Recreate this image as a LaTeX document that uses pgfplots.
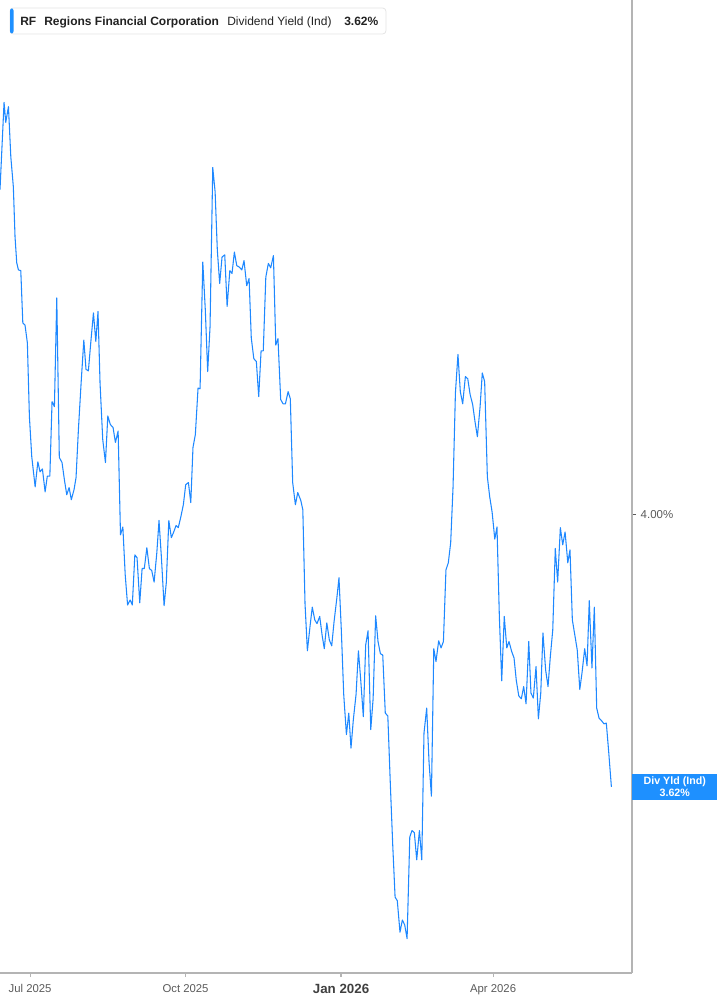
\documentclass[border=0pt]{standalone}
\usepackage{pgfplots}
\pgfplotsset{compat=1.18}
\usepackage{fontspec}
\setmainfont{Liberation Sans}
\definecolor{lineblue}{HTML}{1E88FF}
\definecolor{boxblue}{HTML}{1E90FF}
\definecolor{axgray}{HTML}{B4B4B4}
\definecolor{txtgray}{HTML}{5A5A5A}
\definecolor{darktxt}{HTML}{222222}
\begin{document}
\begin{tikzpicture}
\useasboundingbox (0pt,0pt) rectangle (537.75pt,753.75pt);
\begin{axis}[
  at={(0pt,24pt)}, anchor=south west,
  scale only axis, width=474pt, height=729.75pt,
  xmin=-17.8, xmax=356.2, ymin=3.36, ymax=4.719,
  axis x line*=bottom, axis y line*=right,
  axis line style={axgray, line width=1.5pt, -},
  clip=false,
  xtick={0,92,184,274},
  xticklabels={Jul 2025, Oct 2025, {\fontsize{10}{12}\selectfont\bfseries\color{black!75}Jan 2026}, Apr 2026},
  x tick label style={font=\fontsize{8.5}{10}\selectfont, text=txtgray, yshift=-2pt},
  ytick={4},
  yticklabels={4.00\%},
  y tick label style={font=\fontsize{8.6}{10}\selectfont, text=txtgray},
  tick align=outside,
  x tick style={axgray, line width=0.8pt},
  y tick style={txtgray, line width=0.8pt},
  major tick length=3pt,
]
\addplot[lineblue, line width=0.8pt, line join=round] table {
x y
-17.8 4.454
-15.4 4.576
-14.4 4.548
-12.8 4.570
-11.4 4.500
-9.9 4.458
-8.9 4.388
-7.9 4.352
-6.9 4.342
-5.5 4.341
-4.3 4.268
-3.0 4.265
-1.6 4.240
-0.4 4.137
1.0 4.081
3.0 4.039
4.6 4.074
5.9 4.060
7.3 4.064
8.9 4.032
10.2 4.054
11.7 4.054
13.0 4.158
14.4 4.151
15.8 4.303
17.3 4.080
18.9 4.073
20.3 4.049
21.7 4.028
23.1 4.038
24.4 4.021
26.0 4.035
27.2 4.052
28.6 4.119
30.2 4.184
31.8 4.244
33.1 4.203
34.5 4.201
35.9 4.240
37.5 4.282
38.9 4.242
40.2 4.284
41.4 4.184
43.0 4.105
44.6 4.073
46.0 4.138
47.5 4.126
49.1 4.122
50.5 4.101
52.1 4.117
53.5 3.972
54.9 3.983
56.3 3.916
57.7 3.874
59.2 3.881
60.5 3.874
62.0 3.944
63.3 3.940
64.9 3.877
66.3 3.925
67.6 3.925
69.1 3.954
70.6 3.925
72.0 3.922
73.4 3.906
75.0 3.947
76.3 3.992
77.7 3.941
79.3 3.873
80.6 3.905
82.1 3.992
83.6 3.968
85.0 3.976
86.4 3.985
87.7 3.982
89.2 3.997
90.7 4.014
92.1 4.042
93.7 4.045
95.1 4.017
96.4 4.094
97.8 4.112
99.4 4.177
100.6 4.176
102.2 4.353
103.7 4.286
105.1 4.200
106.5 4.263
108.1 4.485
109.5 4.451
110.8 4.370
112.2 4.323
113.6 4.360
115.2 4.363
116.6 4.291
118.2 4.341
119.5 4.337
120.9 4.367
122.3 4.348
123.8 4.346
125.3 4.342
126.6 4.355
128.2 4.320
129.6 4.330
130.9 4.247
132.4 4.218
133.9 4.214
135.3 4.165
136.7 4.229
138.0 4.229
139.5 4.332
141.0 4.351
142.4 4.345
144.0 4.362
145.4 4.237
146.7 4.246
148.3 4.161
149.7 4.155
151.1 4.155
152.7 4.172
154.0 4.162
155.4 4.045
157.0 4.014
158.4 4.031
160.2 4.020
161.4 4.007
162.7 3.876
164.1 3.810
165.7 3.845
167.0 3.871
168.5 3.853
169.8 3.848
171.4 3.858
172.8 3.832
174.1 3.813
175.6 3.849
177.1 3.825
178.5 3.817
179.9 3.851
181.5 3.883
182.8 3.912
184.2 3.838
185.6 3.749
187.2 3.693
188.6 3.723
189.9 3.674
191.3 3.714
192.9 3.749
194.3 3.810
195.7 3.768
197.2 3.718
198.6 3.818
200.0 3.838
201.6 3.700
203.0 3.743
204.5 3.859
205.9 3.823
207.3 3.806
208.7 3.804
210.2 3.723
211.7 3.719
213.2 3.623
214.6 3.539
216.0 3.466
217.3 3.461
218.9 3.417
220.3 3.434
221.7 3.427
223.1 3.408
224.7 3.550
226.0 3.559
227.4 3.556
228.8 3.518
230.4 3.559
231.8 3.518
233.1 3.695
234.7 3.730
236.1 3.654
237.5 3.607
238.9 3.813
240.2 3.795
241.8 3.824
243.2 3.814
244.6 3.823
246.1 3.923
247.5 3.933
248.9 3.961
250.3 4.039
251.7 4.170
253.2 4.224
254.6 4.172
256.0 4.155
257.6 4.193
259.0 4.190
260.4 4.168
261.9 4.154
263.3 4.130
264.7 4.109
266.3 4.151
267.6 4.198
269.0 4.186
270.6 4.053
272.0 4.025
273.4 4.004
275.0 3.966
276.3 3.983
277.7 3.858
279.1 3.768
280.6 3.858
282.1 3.814
283.4 3.823
285.0 3.809
286.4 3.800
287.7 3.769
289.2 3.747
290.7 3.743
292.1 3.760
293.5 3.736
295.1 3.823
296.4 3.751
297.8 3.744
299.4 3.788
300.8 3.715
302.2 3.751
303.5 3.835
305.1 3.783
306.5 3.760
307.9 3.803
309.3 3.839
310.8 3.953
312.2 3.906
313.8 3.982
315.2 3.958
316.6 3.976
318.2 3.933
319.5 3.951
320.9 3.853
322.5 3.830
323.8 3.811
325.3 3.756
326.6 3.779
328.2 3.813
329.6 3.789
330.9 3.880
332.5 3.786
333.9 3.871
335.3 3.730
336.7 3.716
338.3 3.712
339.6 3.708
341.0 3.709
342.4 3.669
344.0 3.620
};
\node[fill=boxblue, text=white, font=\fontsize{8}{9}\selectfont\bfseries, align=center,
      anchor=west, minimum width=63.75pt, minimum height=19.5pt, inner sep=0pt]
  at (axis cs:356.2,3.62) {Div Yld (Ind)\\3.62\%};
\end{axis}
% header legend
\begin{scope}[x=0.75pt,y=0.75pt]
\draw[draw=black!10, fill=white, rounded corners=2.5pt, line width=0.6pt] (10,971) rectangle (386,997);
\fill[boxblue, rounded corners=1.5pt] (10,971.5) rectangle (13.5,996.5);
\node[anchor=base west, inner sep=0pt, font=\fontsize{9}{10}\selectfont\bfseries, text=darktxt] at (20,979.5) {RF};
\node[anchor=base west, inner sep=0pt, font=\fontsize{9}{10}\selectfont\bfseries, text=darktxt] at (44,979.5) {Regions Financial Corporation};
\node[anchor=base west, inner sep=0pt, font=\fontsize{9}{10}\selectfont, text=darktxt] at (227,979.5) {Dividend Yield (Ind)};
\node[anchor=base west, inner sep=0pt, font=\fontsize{9}{10}\selectfont\bfseries, text=darktxt] at (344,979.5) {3.62\%};
\end{scope}
\end{tikzpicture}
\end{document}
